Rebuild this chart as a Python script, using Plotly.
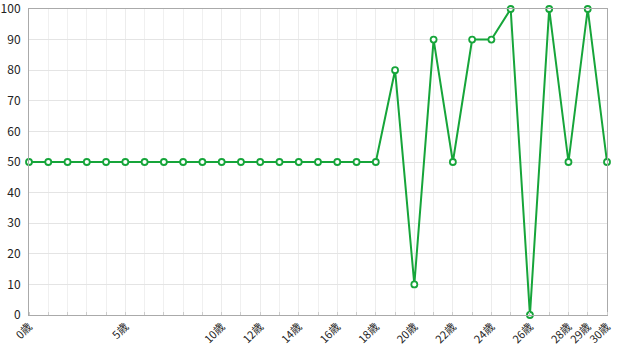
import plotly.graph_objects as go

ages = list(range(31))
values = [50]*19 + [80, 10, 90, 50, 90, 90, 100, 0, 100, 50, 100, 50]
tick_ages = [0, 5, 10, 12, 14, 16, 18, 20, 22, 24, 26, 28, 29, 30]
tick_labels = [f"{a}歳" for a in tick_ages]
y_ticks = list(range(0, 101, 10))

fig = go.Figure()
fig.add_trace(go.Scatter(
    x=ages, y=values, mode="lines+markers",
    line=dict(color="#16a53a", width=2),
    marker=dict(size=6, color="white", line=dict(color="#16a53a", width=1.8)),
    cliponaxis=False, showlegend=False,
))

font = "Noto Sans CJK JP"
fig.update_layout(
    width=620, height=349,
    margin=dict(l=29, r=13, t=9, b=34),
    paper_bgcolor="white", plot_bgcolor="white",
    font=dict(family=font, size=12, color="#222"),
    xaxis=dict(
        range=[0, 30], tickvals=tick_ages, ticktext=tick_labels,
        tickangle=-45, tickfont=dict(size=11), automargin=False,
        ticklabeloverflow="allow", ticklabelstandoff=0,
        showgrid=True, gridcolor="#ececec", gridwidth=1,
        minor=dict(dtick=1, tick0=0, showgrid=True, gridcolor="#f0f0f0",
                   ticks="inside", ticklen=3, tickcolor="#cccccc"),
        showline=True, linecolor="#aaaaaa", linewidth=1, mirror=True,
        zeroline=False, ticks="",
    ),
    yaxis=dict(
        range=[0, 100], tickvals=y_ticks, automargin=False,
        ticklabeloverflow="allow", ticklabelstandoff=5,
        tickfont=dict(size=12),
        showgrid=True, gridcolor="#e4e4e4", gridwidth=1,
        showline=True, linecolor="#aaaaaa", linewidth=1, mirror=True,
        zeroline=False, ticks="",
    ),
)
fig.write_html("out.html")
